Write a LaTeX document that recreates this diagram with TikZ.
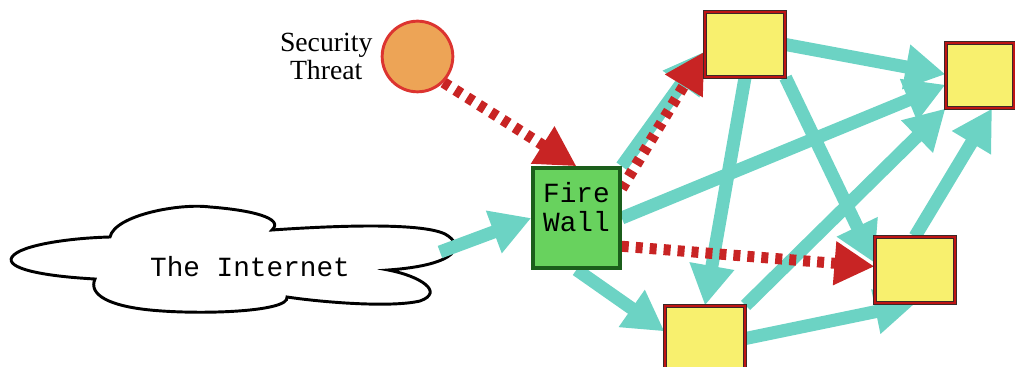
\documentclass[tikz,border=0pt]{standalone}
\usepackage{fontspec}
\setmainfont{Liberation Serif}
\setmonofont{Liberation Mono}
\usetikzlibrary{positioning,arrows.meta,backgrounds}
\definecolor{NetTeal}{RGB}{108,211,196}
\definecolor{AttackRed}{RGB}{200,36,36}
\definecolor{ThreatRim}{RGB}{220,52,48}
\definecolor{ThreatOrange}{RGB}{237,164,86}
\definecolor{WallGreen}{RGB}{104,210,94}
\definecolor{WallDark}{RGB}{27,94,27}
\definecolor{HostYellow}{RGB}{248,240,110}
\definecolor{HostRed}{RGB}{190,20,20}
\definecolor{HostDark}{RGB}{60,40,40}

\begin{document}
\begin{tikzpicture}[
x=0.75pt,y=0.75pt,
node distance=6pt,
host/.style={rectangle,draw=HostDark,line width=0.8pt,double=HostRed,double distance=1.6pt,
fill=HostYellow,minimum width=60pt,minimum height=48.75pt,inner sep=0pt},
wall/.style={rectangle,draw=WallDark,line width=2.6pt,fill=WallGreen,
minimum width=65.25pt,minimum height=75pt},
threat/.style={circle,draw=ThreatRim,line width=2.2pt,fill=ThreatOrange,minimum size=53pt},
cloudline/.style={draw,line width=2.2pt,fill=white},
tag/.style={font=\fontsize{20.8}{21.5}\selectfont,align=center,inner sep=0pt},
mono/.style={font=\ttfamily\fontsize{20.8}{21.75}\selectfont,align=center,inner sep=0pt},
link/.style={-{Triangle[length=30pt,width=32pt]},line width=9.75pt,draw=NetTeal},
attack/.style={-{Triangle[length=30pt,width=31pt]},line width=8.25pt,draw=AttackRed,
dash pattern=on 5.25pt off 5.25pt}
]
\useasboundingbox (0,0) rectangle (1015,-367);
\clip (0,0) rectangle (1015,-367);
% nodes
\node[mono] (nettext) at (250,-267) {The Internet};
\coordinate (netout) at (440,-252);
\node[threat] (threat) at (417.5,-56.5) {};
\node[tag,left=6pt of threat] (threattext) {Security\\Threat};
\node[wall] (fw) at (576.5,-218) {};
\node[mono,anchor=north] (fwtext) at ([yshift=-12pt]fw.north) {Fire\\Wall};
\node[host] (ha) at (745,-44.5) {};
\node[host,minimum width=51pt] (hb) at (980,-75.5) {};
\node[host,minimum height=49.5pt] (hc) at (915,-270) {};
\node[host] (hd) at (705,-338.5) {};
% the internet cloud, then the connections underneath the nodes
\begin{pgfonlayer}{background}
\draw[cloudline] (95,-279) .. controls (40,-276) and (5,-268) .. (12,-257)
  .. controls (20,-245) and (70,-238) .. (110,-237)
  .. controls (115,-215) and (180,-203) .. (210,-207)
  .. controls (250,-210) and (285,-218) .. (272,-230)
  .. controls (330,-226) and (420,-222) .. (445,-234)
  .. controls (465,-245) and (460,-265) .. (388,-270)
  .. controls (420,-276) and (445,-292) .. (420,-301)
  .. controls (390,-308) and (320,-302) .. (287,-297)
  .. controls (290,-312) and (200,-315) .. (150,-310)
  .. controls (110,-306) and (88,-295) .. (95,-279) -- cycle;
\draw[link] (netout) -- (fw.west); \draw[link] (fw.north east) -- (ha.190);
\draw[link] (fw.east) -- (hb.195); \draw[link] (fw.south) -- (hd.170);
\draw[link] (ha.east) -- (hb.178); \draw[link] (ha.south) -- (hd.north);
\draw[link] (ha.south east) -- (hc.170); \draw[link] (hd.north east) -- (hb.south west);
\draw[link] (hc.north) -- (hb.-70); \draw[link] (hd.east) -- (hc.south);
\draw[attack] (threat.-45) -- (fw.north); \draw[attack] (fw.33) -- (ha.190);
\draw[attack] (fw.-32) -- (hc.175);
\end{pgfonlayer}
\end{tikzpicture}
\end{document}
